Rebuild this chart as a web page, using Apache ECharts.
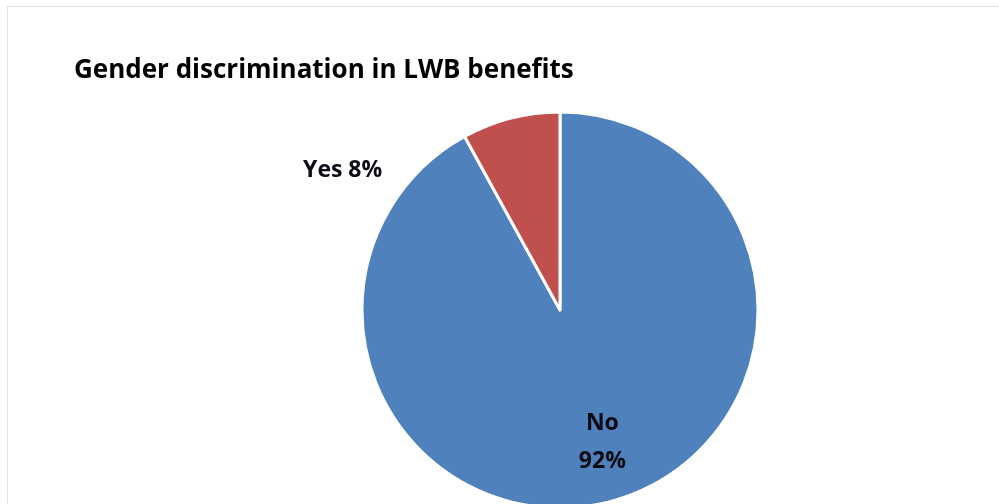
<!DOCTYPE html>
<html><head><meta charset="utf-8">
<script src="https://cdn.jsdelivr.net/npm/echarts@6/dist/echarts.min.js"></script>
<style>
html,body{margin:0;padding:0;background:#fff;}
#frame{position:absolute;left:7px;top:6px;width:1000px;height:510px;border:1px solid #e3e3e3;box-sizing:border-box;}
#chart{position:absolute;left:0;top:0;width:999px;height:504px;}
</style></head>
<body>
<div id="frame"></div>
<div id="chart"></div>
<script>
const titleText = "Gender discrimination in LWB benefits";
const categories = ["No", "Yes"];
const values = [92, 8];
const colors = ["#4F81BD", "#C0504D"];

const chart = echarts.init(document.getElementById('chart'), null, {renderer:'canvas'});
const data = categories.map((c, i) => ({
  name: c,
  value: values[i],
  itemStyle: {color: colors[i]},
  label: i === 0
    ? {position: 'inside', formatter: '{b}\n{d}%', offset: [17, 34], lineHeight: 38}
    : {position: 'inside', formatter: '{b} {d}%', offset: [-192, -41]}
}));
chart.setOption({
  animation: false,
  title: {
    text: titleText, left: 69, top: 53,
    textStyle: {fontFamily: 'Open Sans', fontWeight: 'bold', fontSize: 26, color: '#000'}
  },
  series: [{
    type: 'pie',
    center: [560, 310],
    radius: [0, 198],
    startAngle: 90,
    clockwise: true,
    data: data,
    itemStyle: {borderColor: '#fff', borderWidth: 3},
    labelLine: {show: false},
    label: {fontFamily: 'Open Sans', fontWeight: 'bold', fontSize: 23, color: '#0a0a14'}
  }]
});
</script>
</body></html>
